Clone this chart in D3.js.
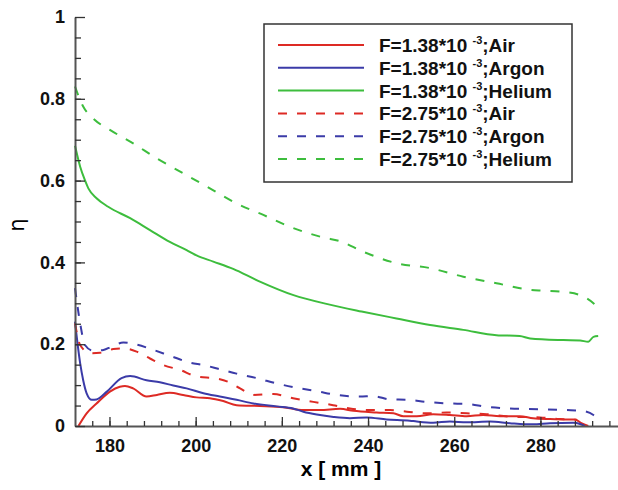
<!DOCTYPE html>
<html>
<head>
<meta charset="utf-8">
<script src="https://cdn.jsdelivr.net/npm/d3@7"></script>
<style>
  body { margin: 0; background: #fff; }
  text { font-family: "Liberation Sans", Arial, Helvetica, sans-serif; }
</style>
</head>
<body>
<svg id="chart" width="618" height="490"></svg>
<script>
// series: x positions (mm) and eta values
const airLoX = [172.8, 174.7, 177, 180.1, 182.4, 183.6, 185.5, 188.6, 191, 194, 197.1, 200.2, 203.3, 206.4, 209.5, 214.9, 220.3, 225, 228.8, 233.5, 236.6, 242, 245.9, 248.2, 251.3, 255.1, 259, 262.9, 266.7, 270.6, 275.2, 278.3, 282.2, 286.1, 288, 289.5, 291.1]
const airLoY = [0.0, 0.031, 0.055, 0.084, 0.096, 0.098, 0.092, 0.072, 0.076, 0.081, 0.076, 0.070, 0.068, 0.061, 0.051, 0.049, 0.046, 0.039, 0.039, 0.042, 0.037, 0.033, 0.031, 0.024, 0.024, 0.029, 0.027, 0.024, 0.027, 0.024, 0.024, 0.019, 0.017, 0.016, 0.016, 0.007, 0.0]

const argonLoX = [172, 173.2, 173.9, 174.7, 175.9, 177, 179.4, 182.8, 184.8, 188.6, 191.7, 194.8, 197.9, 201.8, 205.6, 209.5, 213.4, 218.8, 222.6, 225, 228.1, 232, 235.8, 239.7, 244.3, 249.7, 251.3, 255.1, 259, 262.9, 268.3, 272.9, 278.3, 282.2, 287.6, 289.2, 290.3]
const argonLoY = [0.255, 0.153, 0.112, 0.080, 0.064, 0.065, 0.084, 0.117, 0.122, 0.112, 0.107, 0.099, 0.092, 0.080, 0.072, 0.064, 0.055, 0.048, 0.043, 0.035, 0.028, 0.022, 0.019, 0.021, 0.016, 0.013, 0.011, 0.008, 0.011, 0.009, 0.011, 0.007, 0.004, 0.007, 0.008, 0.005, 0.0]

const heliumLoX = [172, 173.2, 174.3, 175.1, 177, 179.7, 184.8, 189.4, 194, 197.9, 200.2, 204.1, 208.7, 214.5, 222.7, 230.6, 238.5, 246.6, 254.4, 262.1, 269.8, 275.2, 277.6, 285.3, 289.2, 291.1, 292.3, 293.4]
const heliumLoY = [0.685, 0.634, 0.601, 0.581, 0.557, 0.536, 0.508, 0.479, 0.450, 0.430, 0.417, 0.402, 0.384, 0.355, 0.320, 0.298, 0.280, 0.263, 0.247, 0.235, 0.222, 0.220, 0.214, 0.210, 0.209, 0.206, 0.218, 0.220]

const airHiX = [172, 173.2, 175.5, 177.8, 180.9, 183.2, 186.3, 189.4, 192.5, 196.4, 200.2, 204.9, 207.5, 210.3, 213.4, 218, 222.6, 227.3, 231.9, 235.8, 240.4, 245.1, 249, 253.6, 258.2, 262.9, 267.5, 272.9, 279.9, 284.5, 288.4]
const airHiY = [0.251, 0.198, 0.178, 0.179, 0.188, 0.190, 0.182, 0.165, 0.149, 0.137, 0.121, 0.116, 0.108, 0.092, 0.076, 0.078, 0.068, 0.059, 0.051, 0.043, 0.039, 0.039, 0.035, 0.031, 0.033, 0.031, 0.029, 0.023, 0.021, 0.017, 0.015]

const argonHiX = [172, 173.2, 174.3, 176.2, 178.6, 180.5, 183.2, 186.3, 190.2, 194, 198.7, 201.8, 205.2, 209.5, 214.2, 218.8, 224.2, 228.1, 232.7, 238.1, 241.2, 245.1, 249, 253.6, 259, 262.9, 267.5, 272.9, 279.9, 286.1, 289.6, 292.3, 293.4]
const argonHiY = [0.337, 0.251, 0.198, 0.184, 0.186, 0.194, 0.204, 0.199, 0.186, 0.172, 0.155, 0.149, 0.140, 0.128, 0.117, 0.104, 0.092, 0.085, 0.076, 0.072, 0.073, 0.065, 0.064, 0.059, 0.055, 0.054, 0.047, 0.043, 0.041, 0.039, 0.037, 0.027, 0.015]

const heliumHiX = [172, 173.9, 176.2, 180.1, 185.5, 191, 197.1, 203.3, 209.5, 215.7, 221.9, 229.6, 233.5, 238.9, 246.6, 254.4, 262.1, 269.8, 277.6, 280.7, 285.3, 289.2, 292.3, 293.4]
const heliumHiY = [0.830, 0.781, 0.752, 0.724, 0.691, 0.654, 0.618, 0.581, 0.544, 0.516, 0.487, 0.461, 0.452, 0.426, 0.398, 0.386, 0.365, 0.349, 0.333, 0.331, 0.328, 0.320, 0.300, 0.288]

const seriesF = ['1.38', '1.38', '1.38', '2.75', '2.75', '2.75']
const seriesGas = ['Air', 'Argon', 'Helium', 'Air', 'Argon', 'Helium']

const xMajor = [180, 200, 220, 240, 260, 280]
const yMajor = [0, 0.2, 0.4, 0.6, 0.8, 1]

let colors = {Air: '#dd2a24', Argon: '#3b3ba8', Helium: '#3dbd3d'}

let series = [
  {xs: airLoX, ys: airLoY}, {xs: argonLoX, ys: argonLoY}, {xs: heliumLoX, ys: heliumLoY},
  {xs: airHiX, ys: airHiY}, {xs: argonHiX, ys: argonHiY}, {xs: heliumHiX, ys: heliumHiY}
].map((s, i) => ({
  F: seriesF[i], gas: seriesGas[i], dashed: i >= 3,
  pts: s.xs.map((x, j) => [x, s.ys[j]])
}))

let svg = d3.select('#chart')

let xScale = d3.scaleLinear().domain([172, 298]).range([75, 618])
let yScale = d3.scaleLinear().domain([0, 1]).range([426, 17])

let line = d3.line()
  .x(d => xScale(d[0]))
  .y(d => yScale(d[1]))
  .curve(d3.curveMonotoneX)

// curves
svg.append('g')
  .selectAll('path')
  .data(series)
  .enter()
    .append('path')
    .attr('d', d => line(d.pts))
    .style('fill', 'none')
    .style('stroke', d => colors[d.gas])
    .style('stroke-width', 2)
    .style('stroke-dasharray', d => d.dashed ? '9,10' : null)

// axes, ticks point inwards
let styleAxis = g => {
  g.selectAll('.domain').style('stroke', '#555').style('stroke-width', 2)
  g.selectAll('.tick line').style('stroke', '#333').style('stroke-width', 1.3)
  g.selectAll('.tick text')
    .style('font-family', '"Liberation Sans", Arial, sans-serif')
    .style('font-weight', 'bold').style('font-size', '18px').style('fill', '#111')
}

svg.append('g')
  .attr('transform', 'translate(0,426)')
  .call(d3.axisBottom(xScale).tickValues(d3.range(176, 298, 4)).tickSize(-5).tickSizeOuter(0).tickFormat(''))
  .call(styleAxis)
svg.append('g')
  .attr('transform', 'translate(0,426)')
  .call(d3.axisBottom(xScale).tickValues(xMajor).tickSize(-9).tickSizeOuter(0).tickPadding(13).tickFormat(d3.format('d')))
  .call(styleAxis)
  .call(g => g.select('.domain').remove())

svg.append('g')
  .attr('transform', 'translate(75,0)')
  .call(d3.axisLeft(yScale).tickValues(d3.range(0.05, 1, 0.05)).tickSize(-6).tickSizeOuter(0).tickFormat(''))
  .call(styleAxis)
svg.append('g')
  .attr('transform', 'translate(75,0)')
  .call(d3.axisLeft(yScale).tickValues(yMajor).tickSize(-10).tickSizeOuter(0).tickPadding(10).tickFormat(d => d === 0 || d === 1 ? d3.format('d')(d) : d3.format('.1f')(d)))
  .call(styleAxis)
  .call(g => g.select('.domain').remove())

// axis titles
svg.append('text')
  .attr('x', 341).attr('y', 476)
  .style('text-anchor', 'middle')
  .style('font-weight', 'bold').style('font-size', '21px')
  .text('x [ mm ]')
svg.append('text')
  .attr('transform', 'translate(24, 225) rotate(-90)')
  .style('text-anchor', 'middle')
  .style('font-size', '21px')
  .style('font-family', '"DejaVu Sans", sans-serif')
  .text('η')

// legend
let legend = svg.append('g')
legend.append('rect')
  .attr('x', 264).attr('y', 24).attr('width', 308).attr('height', 158)
  .style('fill', '#fff').style('stroke', '#333').style('stroke-width', 1.5)

let rows = legend.selectAll('g.row')
  .data(series)
  .enter()
    .append('g')
    .attr('class', 'row')
    .attr('transform', (d, i) => `translate(0, ${45 + i * 22.8})`)

rows.append('line')
  .attr('x1', 278).attr('x2', 364)
  .style('stroke', d => colors[d.gas])
  .style('stroke-width', 2)
  .style('stroke-dasharray', d => d.dashed ? '9,10' : null)

let label = rows.append('text')
  .attr('x', 379).attr('y', 7)
  .style('font-weight', 'bold').style('font-size', '19px').style('fill', '#111')
label.append('tspan').text(d => `F=${d.F}*10\u00a0`)
label.append('tspan').attr('dy', -8).style('font-size', '11px').text('-3')
label.append('tspan').attr('dy', 8).text(d => `;${d.gas}`)
</script>
</body>
</html>
